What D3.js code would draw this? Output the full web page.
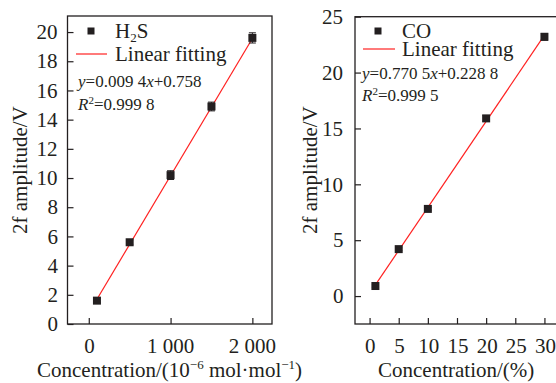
<!DOCTYPE html>
<html>
<head>
<meta charset="UTF-8">
<style>
  body { margin: 0; background: #fff; }
</style>
</head>
<body>
<div id="chart"></div>
<script src="https://cdnjs.cloudflare.com/ajax/libs/d3/7.8.5/d3.min.js"></script>
<script>
// H2S panel
var h2sConc = [100, 500, 1000, 1500, 2000];
var h2sAmp = [1.6, 5.6, 10.2, 14.9, 19.6];
var h2sErr = [0.15, 0.15, 0.3, 0.3, 0.35];
var h2sFit = {k: 0.0094, b: 0.758};
var h2sXTicks = [0, 1000, 2000];
var h2sYTicks = [0, 2, 4, 6, 8, 10, 12, 14, 16, 18, 20];

// CO panel
var coConc = [1, 5, 10, 20, 30];
var coAmp = [0.9, 4.2, 7.8, 15.9, 23.2];
var coErr = [0.1, 0.12, 0.12, 0.25, 0.3];
var coFit = {k: 0.7705, b: 0.2288};
var coXTicks = [0, 5, 10, 15, 20, 25, 30];
var coYTicks = [0, 5, 10, 15, 20, 25];

var W = 556, H = 383;
var SERIF = "'Liberation Serif', 'Times New Roman', serif";
var INK = "#231f20";
var BIG = "21px";
var svg = d3.select("#chart").append("svg")
    .attr("width", W).attr("height", H);

var spaced = function(d) { return d3.format(",")(d).replace(/,/g, " "); };

function drawPanel(p) {
    var x = d3.scaleLinear().domain(p.xDomain).range([p.left, p.right]);
    var y = d3.scaleLinear().domain(p.yDomain).range([p.bottom, p.top]);
    var g = svg.append("g");

    // frame
    g.append("rect")
        .attr("x", p.left).attr("y", p.top)
        .attr("width", p.right - p.left).attr("height", p.bottom - p.top)
        .attr("fill", "none").attr("stroke", INK).attr("stroke-width", 1.3);

    var xAxis = g.append("g")
        .attr("transform", "translate(0," + p.bottom + ")")
        .call(d3.axisBottom(x).tickValues(p.xTicks).tickSizeInner(-6).tickSizeOuter(0)
            .tickPadding(14).tickFormat(p.xFormat));
    var yAxis = g.append("g")
        .attr("transform", "translate(" + p.left + ",0)")
        .call(d3.axisLeft(y).tickValues(p.yTicks).tickSizeInner(-6).tickSizeOuter(0)
            .tickPadding(p.yPad).tickFormat(d3.format("d")));
    [xAxis, yAxis].forEach(function(a) {
        a.attr("font-family", null).attr("font-size", null);
        a.select(".domain").remove();
        a.selectAll("line").attr("stroke", INK).attr("stroke-width", 1.2);
        a.selectAll("text").style("font-size", BIG);
    });

    // fit line
    var x0 = d3.min(p.xs), x1 = d3.max(p.xs);
    g.append("line")
        .attr("x1", x(x0)).attr("y1", y(p.fit.k * x0 + p.fit.b))
        .attr("x2", x(x1)).attr("y2", y(p.fit.k * x1 + p.fit.b))
        .attr("stroke", "#ff2020").attr("stroke-width", 1.2);

    var pts = p.xs.map(function(d, i) { return {x: d, y: p.ys[i], e: p.errs[i]}; });

    // error bars
    var eb = g.selectAll(".eb").data(pts).enter().append("g");
    eb.append("line")
        .attr("x1", function(d) { return x(d.x); }).attr("x2", function(d) { return x(d.x); })
        .attr("y1", function(d) { return y(d.y - d.e); }).attr("y2", function(d) { return y(d.y + d.e); })
        .attr("stroke", INK).attr("stroke-width", 1);
    [-1, 1].forEach(function(s) {
        eb.append("line")
            .attr("x1", function(d) { return x(d.x) - 3.5; }).attr("x2", function(d) { return x(d.x) + 3.5; })
            .attr("y1", function(d) { return y(d.y + s * d.e); })
            .attr("y2", function(d) { return y(d.y + s * d.e); })
            .attr("stroke", INK).attr("stroke-width", 1);
    });

    // markers
    g.selectAll(".pt").data(pts).enter().append("rect")
        .attr("x", function(d) { return x(d.x) - 4; })
        .attr("y", function(d) { return y(d.y) - 4; })
        .attr("width", 8).attr("height", 8)
        .attr("fill", INK);

    // legend
    var L = p.legend;
    g.append("rect").attr("x", L.mx - 3.5).attr("y", L.my - 3.5)
        .attr("width", 7).attr("height", 7).attr("fill", INK);
    var name = g.append("text").attr("x", L.tx).attr("y", L.y1).style("font-size", "21px");
    p.nameParts.forEach(function(t) {
        var ts = name.append("tspan").text(t.s);
        if (t.sub) ts.attr("dy", 4).style("font-size", "13px");
        if (t.back) ts.attr("dy", -4);
    });
    g.append("line").attr("x1", L.lx0).attr("x2", L.lx1)
        .attr("y1", L.y2 - 7).attr("y2", L.y2 - 7)
        .attr("stroke", "#ff2020").attr("stroke-width", 1.2);
    g.append("text").attr("x", L.tx).attr("y", L.y2).style("font-size", "21px").text("Linear fitting");

    var eq = g.append("text").attr("x", L.ex).attr("y", L.y3).style("font-size", "17px");
    eq.append("tspan").style("font-style", "italic").text("y");
    eq.append("tspan").text("=" + p.eq[0]);
    eq.append("tspan").style("font-style", "italic").text("x");
    eq.append("tspan").text("+" + p.eq[1]);

    var r2 = g.append("text").attr("x", L.ex).attr("y", L.y4).style("font-size", "17px");
    r2.append("tspan").style("font-style", "italic").text("R");
    r2.append("tspan").attr("dy", -6).style("font-size", "11px").text("2");
    r2.append("tspan").attr("dy", 6).text("=" + p.r2);

    // axis titles
    g.append("text")
        .attr("transform", "translate(" + p.yTitleX + "," + Math.round((p.top + p.bottom) / 2) + ") rotate(-90)")
        .attr("text-anchor", "middle").style("font-size", BIG).text("2f amplitude/V");
    var xt = g.append("text").attr("x", p.xTitleX).attr("y", 377)
        .attr("text-anchor", "middle").style("font-size", BIG);
    p.xTitle.forEach(function(t) {
        var ts = xt.append("tspan").text(t.s);
        if (t.sup) ts.attr("dy", -8).style("font-size", "13px");
        if (t.back) ts.attr("dy", 8);
    });
}

drawPanel({
    left: 67.5, right: 272, top: 16, bottom: 324,
    xDomain: [-260, 2240], yDomain: [0, 21.1],
    xTicks: h2sXTicks, yTicks: h2sYTicks, xFormat: spaced, yPad: 10,
    xs: h2sConc, ys: h2sAmp, errs: h2sErr, fit: h2sFit,
    legend: {mx: 91, my: 31, tx: 115, lx0: 76, lx1: 107, y1: 38, y2: 61, ex: 78, y3: 87, y4: 110},
    nameParts: [{s: "H"}, {s: "2", sub: true}, {s: "S", back: true}],
    eq: ["0.009 4", "0.758"], r2: "0.999 8",
    yTitleX: 27, xTitleX: 170,
    xTitle: [{s: "Concentration/(10"}, {s: "\u22126", sup: true}, {s: " mol\u00b7mol", back: true},
             {s: "\u22121", sup: true}, {s: ")", back: true}]
});

drawPanel({
    left: 355, right: 559, top: 16.7, bottom: 324,
    xDomain: [-2.5, 32.5], yDomain: [-2.5, 25],
    xTicks: coXTicks, yTicks: coYTicks, xFormat: d3.format("d"), yPad: 12,
    xs: coConc, ys: coAmp, errs: coErr, fit: coFit,
    legend: {mx: 378, my: 31, tx: 402, lx0: 363, lx1: 395, y1: 38, y2: 56, ex: 362, y3: 79, y4: 101},
    nameParts: [{s: "CO"}],
    eq: ["0.770 5", "0.228 8"], r2: "0.999 5",
    yTitleX: 317, xTitleX: 456,
    xTitle: [{s: "Concentration/(%)"}]
});

// serif everywhere, and turn centred / right-aligned texts into left-aligned
// ones on whole pixels so the glyphs keep their serifs
svg.selectAll("text").style("font-family", SERIF).attr("fill", INK);
svg.selectAll("text").each(function() {
    var anchor = getComputedStyle(this).textAnchor;
    if (anchor === "start") return;
    var w = this.getComputedTextLength();
    var x0 = +this.getAttribute("x") || 0;
    var nx = anchor === "middle" ? x0 - w / 2 : x0 - w;
    this.setAttribute("x", Math.round(nx));
    this.setAttribute("text-anchor", "start");
    this.style.textAnchor = "start";
});
</script>
</body>
</html>
